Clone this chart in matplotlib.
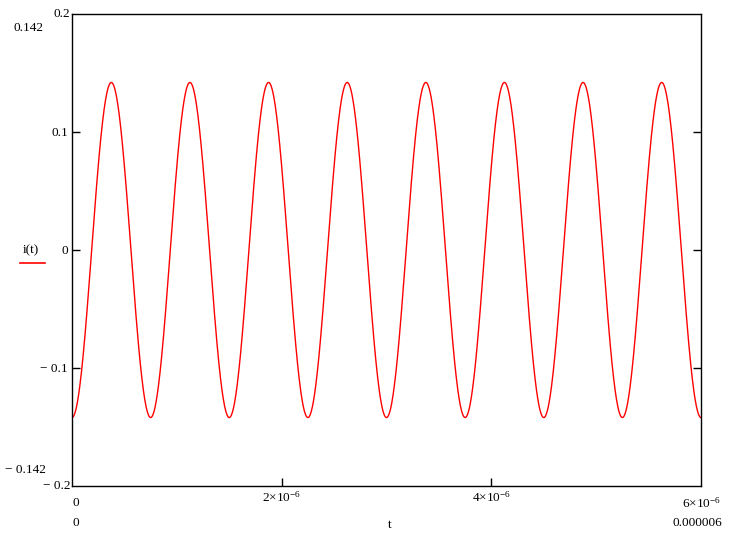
import numpy as np
import matplotlib.pyplot as plt

# values
t_max = 6e-6          # end of the t range
amplitude = 0.142     # peak of i(t), marked on the plot
period = 0.75e-6      # 8 full cycles across the range
y_ticks = [-0.1, 0, 0.1]
y_tick_labels = ["\u2212 0.1", "0", "0.1"]
x_ticks = [2e-6, 4e-6]
x_tick_labels = [r"2$\times$10$^{-6}$", r"4$\times$10$^{-6}$"]

# i(t) as plotted by the worksheet (starts at a trough)
t = np.linspace(0, t_max, 2000)
i_t = -amplitude * np.cos(2 * np.pi * t / period)

plt.rcParams['font.family'] = ['Liberation Serif', 'DejaVu Serif']
plt.rcParams['mathtext.fontset'] = 'custom'
plt.rcParams['mathtext.rm'] = 'Liberation Serif'
plt.rcParams['mathtext.it'] = 'Liberation Serif'

fig = plt.figure(figsize=(7.37, 5.4), dpi=100)
W, H = 737, 540
x0, x1, y0, y1 = 72, 701, 14, 486
ax = fig.add_axes([x0 / W, 1 - y1 / H, (x1 - x0) / W, (y1 - y0) / H])

ax.plot(t, i_t, color='#ff0000', lw=1.0)
ax.set_xlim(0, t_max)
ax.set_ylim(-0.2, 0.2)

for s in ax.spines.values():
    s.set_linewidth(1.0)

fs = 9.5
ax.set_yticks(y_ticks)
ax.set_yticklabels(y_tick_labels)
ax.set_xticks(x_ticks)
ax.set_xticklabels(x_tick_labels)
ax.tick_params(direction='in', length=6, width=1, labelsize=fs,
               left=True, right=True, top=False, bottom=True, pad=3)

# corner limits, as the worksheet shows them
fig.text(x0 / W - 0.002, 1 - y0 / H, "0.2", ha='right', va='center', fontsize=fs)
fig.text(x0 / W - 0.002, 1 - y1 / H, "\u2212 0.2", ha='right', va='center', fontsize=fs)
fig.text(76 / W, 1 - 503 / H, "0", ha='center', va='center', fontsize=fs)
fig.text(x1 / W, 1 - 503 / H, r"6$\times$10$^{-6}$", ha='center', va='center', fontsize=fs)

# range markers
fig.text(76 / W, 1 - 523 / H, "0", ha='center', va='center', fontsize=fs)
fig.text(697 / W, 1 - 523 / H, "0.000006", ha='center', va='center', fontsize=fs)
fig.text(29 / W, 1 - 28 / H, "0.142", ha='center', va='center', fontsize=fs)
fig.text(25 / W, 1 - 470 / H, "\u2212 0.142", ha='center', va='center', fontsize=fs)

# axis names
fig.text(390 / W, 1 - 525 / H, "t", ha='center', va='center', fontsize=fs)
fig.text(31 / W, 1 - 250 / H, "i(t)", ha='center', va='center', fontsize=fs)
fig.add_artist(plt.Line2D([20 / W, 45 / W], [1 - 263 / H, 1 - 263 / H],
                          color='#ff0000', lw=1.2))

fig.savefig("out.png", dpi=100)
